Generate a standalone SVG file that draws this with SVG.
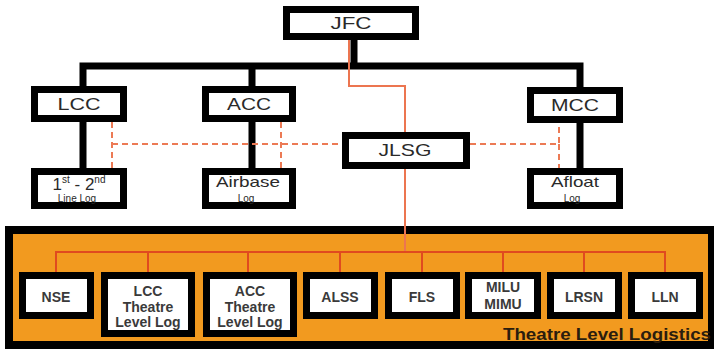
<svg xmlns="http://www.w3.org/2000/svg" width="714" height="349" viewBox="0 0 714 349">
<style>
.box{fill:#fff;stroke:#000;stroke-width:7}
.t{font-family:"Liberation Sans",Arial,sans-serif;fill:#2a2a2a;text-anchor:middle}
.top{font-size:17px}
.sm{font-size:10px}
.mid{font-size:15px}
.b{font-size:14px;font-weight:bold;fill:#3a3a3a}
.conn{fill:none;stroke:#000;stroke-width:7}
.org{fill:none;stroke:#ec7550;stroke-width:2}
.dash{fill:none;stroke:#ec7a55;stroke-width:2;stroke-dasharray:6 4}
.red{fill:none;stroke:#e04a1f;stroke-width:2}
</style>
<g id="panel">
<rect x="9" y="230" width="703" height="115" fill="#f29a1f" stroke="#000" stroke-width="8"/>
<text x="503" y="340" font-family="'Liberation Sans',Arial,sans-serif" font-size="16" font-weight="bold" fill="#2b1d0e" textLength="208" lengthAdjust="spacingAndGlyphs">Theatre Level Logistics</text>
</g>
<g id="connectors">
<path class="conn" d="M354,40 V66 M79.5,66 H583.5 M83,66 V86 M252,66 V86 M580,66 V87 M83,122 V168 M252,122 V168 M580,123 V168"/>
<path class="org" d="M349,40 V86 H405 V252"/>
<path class="dash" d="M112,122 V168 M112,144 H342 M281,122 V168 M470,144 H559 V123 M559,144 V168"/>
<path class="red" d="M56,272 V252 H665 V272 M148,252 V272 M248,252 V272 M340,252 V272 M422,252 V272 M503,252 V272 M584,252 V272"/>
</g>
<g id="jfc"><rect class="box" x="286.5" y="9.5" width="129" height="27"/><text class="t top" x="351" y="29" textLength="41" lengthAdjust="spacingAndGlyphs">JFC</text></g>
<g id="lcc"><rect class="box" x="34.5" y="89.5" width="89" height="29"/><text class="t top" x="79" y="110" textLength="43" lengthAdjust="spacingAndGlyphs">LCC</text></g>
<g id="acc"><rect class="box" x="205.5" y="89.5" width="87" height="29"/><text class="t top" x="249" y="110" textLength="44" lengthAdjust="spacingAndGlyphs">ACC</text></g>
<g id="mcc"><rect class="box" x="530.5" y="90.5" width="89" height="29"/><text class="t top" x="575" y="111" textLength="48" lengthAdjust="spacingAndGlyphs">MCC</text></g>
<g id="jlsg"><rect class="box" x="345.5" y="135.5" width="121" height="30"/><text class="t top" x="405" y="156" textLength="53" lengthAdjust="spacingAndGlyphs">JLSG</text></g>
<g id="line-log"><rect class="box" x="34.5" y="171.5" width="89" height="34"/><text class="t" font-size="17" x="79" y="190">1<tspan font-size="10" dy="-7">st</tspan><tspan dy="7"> - 2</tspan><tspan font-size="10" dy="-7">nd</tspan></text><text class="t sm" x="77" y="202">Line Log</text></g>
<g id="airbase"><rect class="box" x="205.5" y="171.5" width="87" height="34"/><text class="t mid" x="248" y="187" textLength="64" lengthAdjust="spacingAndGlyphs">Airbase</text><text class="t sm" x="246" y="202">Log</text></g>
<g id="afloat"><rect class="box" x="530.5" y="171.5" width="89" height="34"/><text class="t mid" x="575" y="187" textLength="48" lengthAdjust="spacingAndGlyphs">Afloat</text><text class="t sm" x="572" y="202">Log</text></g>
<g id="nse"><rect class="box" x="22.5" y="275.5" width="68" height="40"/><text class="t b" x="56" y="302">NSE</text></g>
<g id="lcc-tll"><rect class="box" x="104.5" y="275.5" width="87" height="58"/><text class="t b" x="148" y="296">LCC</text><text class="t b" x="148" y="312">Theatre</text><text class="t b" x="148" y="327">Level Log</text></g>
<g id="acc-tll"><rect class="box" x="206.5" y="275.5" width="87" height="58"/><text class="t b" x="250" y="296">ACC</text><text class="t b" x="250" y="312">Theatre</text><text class="t b" x="250" y="327">Level Log</text></g>
<g id="alss"><rect class="box" x="306.5" y="275.5" width="68" height="40"/><text class="t b" x="340" y="302">ALSS</text></g>
<g id="fls"><rect class="box" x="388.5" y="275.5" width="68" height="40"/><text class="t b" x="422" y="302">FLS</text></g>
<g id="milu"><rect class="box" x="468.5" y="275.5" width="69" height="40"/><text class="t b" x="503" y="292">MILU</text><text class="t b" x="503" y="309">MIMU</text></g>
<g id="lrsn"><rect class="box" x="550.5" y="275.5" width="68" height="40"/><text class="t b" x="584" y="302">LRSN</text></g>
<g id="lln"><rect class="box" x="631.5" y="275.5" width="68" height="40"/><text class="t b" x="665" y="302">LLN</text></g>
</svg>
